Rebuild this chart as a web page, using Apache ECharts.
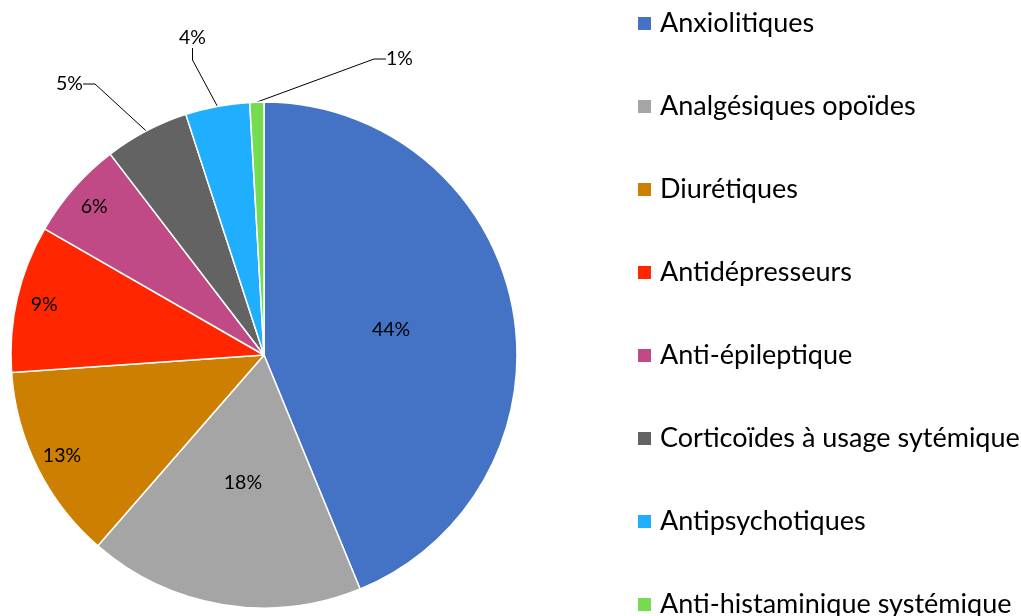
<!DOCTYPE html>
<html><head><meta charset="utf-8">
<script src="https://cdn.jsdelivr.net/npm/echarts@6/dist/echarts.min.js"></script>
<style>html,body{margin:0;padding:0;background:#fff}#c{width:1021px;height:616px}</style>
</head><body><div id="c"></div>
<script>
const categories = ['Anxiolitiques','Analgésiques opoïdes','Diurétiques','Antidépresseurs','Anti-épileptique','Corticoïdes à usage sytémique','Antipsychotiques','Anti-histaminique systémique'];
const values = [43.8, 17.6, 12.5, 9.4, 6.3, 5.4, 4.1, 0.9];
const colors = ['#4472C4','#A5A5A5','#CC7F00','#FF2600','#C04A85','#636363','#20AEFF','#76DB4E'];
const pctLabels = ['44%','18%','13%','9%','6%','5%','4%','1%'];

const FONT = 'Lato';
const R = 253;
const innerMid = [0,1];
const innerOuter = [2,3,4];
const outside = [5,6,7];
// placement of the outside labels (label anchor positions)
const outsideLabelPos = {5:{x:83,y:84,align:'right'}, 6:{x:206,y:38,align:'right'}, 7:{x:386,y:59,align:'left'}};

const lblStyle = {color:'#000', fontFamily:FONT, fontSize:19.5, formatter:p=>pctLabels[p.dataIndex]};

const mainData = categories.map((n,i)=>({
  name:n, value:values[i], itemStyle:{color:colors[i]},
  label: outside.includes(i) ? {show:true, position:'outside'} :
         innerMid.includes(i) ? {show:true, position:'inside'} : {show:false}
}));
const overlayData = categories.map((n,i)=>({
  name:n, value:values[i],
  label: innerOuter.includes(i) ? {show:true, position:'inside'} : {show:false}
}));

const chart = echarts.init(document.getElementById('c'), null, {renderer:'canvas'});
chart.setOption({
  animation:false,
  legend:{
    orient:'vertical', left:636, top:10, padding:0, height:700,
    itemWidth:15, itemHeight:15, itemGap:56,
    icon:'rect',
    data:categories,
    textStyle:{fontFamily:FONT, fontSize:27, color:'#000', padding:[0,0,0,3]},
    selectedMode:false
  },
  series:[
    {
      type:'pie', center:[264,355], radius:[0,R], startAngle:90, clockwise:true,
      avoidLabelOverlap:false, silent:true,
      itemStyle:{borderColor:'#fff', borderWidth:1.5},
      label:Object.assign({}, lblStyle),
      labelLine:{show:true, length:55, length2:12, lineStyle:{color:'#000', width:1}},
      labelLayout:function(p){
        const o = outsideLabelPos[p.dataIndex];
        if(!o) return {};
        return {x:o.x, y:o.y, align:o.align, verticalAlign:'middle'};
      },
      data:mainData
    },
    {
      type:'pie', center:[264,355], radius:[0,R*1.76], startAngle:90, clockwise:true,
      avoidLabelOverlap:false, silent:true,
      itemStyle:{color:'rgba(0,0,0,0)'},
      label:Object.assign({}, lblStyle),
      labelLine:{show:false},
      data:overlayData
    }
  ]
});
</script></body></html>
